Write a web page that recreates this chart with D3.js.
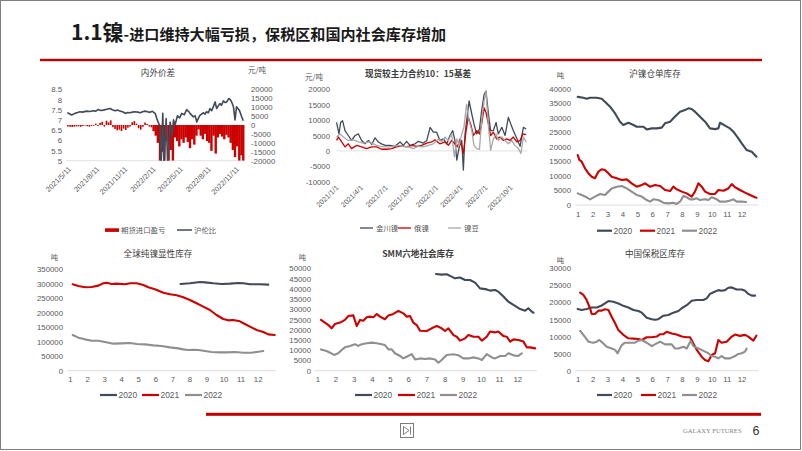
<!DOCTYPE html>
<html><head><meta charset="utf-8">
<script src="https://cdn.jsdelivr.net/npm/d3@7"></script>
<style>body{margin:0;background:#fff}svg{display:block}</style>
</head><body>
<svg id="c" width="802" height="451"></svg>
<script>
// ---------------- DATA ----------------
const slideTitleMain = "1.1镍";
const slideTitleRest = "-进口维持大幅亏损，保税区和国内社会库存增加";

// Chart 1: 内外价差
const c1Ticks = ["2021-05-11","2021-08-11","2021-11-11","2022-02-11","2022-05-11","2022-08-11","2022-11-11"];
const c1TickLabels = ["2021/5/11","2021/8/11","2021/11/11","2022/2/11","2022/5/11","2022/8/11","2022/11/11"];
const importPL = [["2021-05-14",-900],["2021-05-21",-1000],["2021-05-28",-1100],["2021-06-04",-900],["2021-06-11",-800],["2021-06-18",-700],["2021-06-25",-1000],["2021-07-02",-600],["2021-07-09",-300],["2021-07-16",-700],["2021-07-23",-900],["2021-07-30",-500],["2021-08-06",-400],["2021-08-13",800],["2021-08-20",-600],["2021-08-27",1200],["2021-09-03",1800],["2021-09-10",-900],["2021-09-17",2400],["2021-09-24",1500],["2021-10-01",2600],["2021-10-08",-1200],["2021-10-15",-2200],["2021-10-22",-3000],["2021-10-29",-2600],["2021-11-05",-3400],["2021-11-12",-2000],["2021-11-19",-2800],["2021-11-26",-1500],["2021-12-03",-900],["2021-12-10",1500],["2021-12-17",2200],["2021-12-24",800],["2021-12-31",-1800],["2022-01-07",-2600],["2022-01-14",-1000],["2022-01-21",1400],["2022-01-28",600],["2022-02-04",-900],["2022-02-11",-1300],["2022-02-18",-3500],["2022-02-25",-6000],["2022-03-04",-10000],["2022-03-11",-20000],["2022-03-18",-15000],["2022-03-25",-20000],["2022-04-01",-9000],["2022-04-08",-20000],["2022-04-15",-14000],["2022-04-22",-20000],["2022-04-29",-7000],["2022-05-06",-9000],["2022-05-13",-12000],["2022-05-20",-8000],["2022-05-27",-10000],["2022-06-03",-7000],["2022-06-10",-9500],["2022-06-17",-13000],["2022-06-24",-8000],["2022-07-01",-11000],["2022-07-08",-6000],["2022-07-15",-2500],["2022-07-22",-6000],["2022-07-29",-8000],["2022-08-05",-5000],["2022-08-12",-9000],["2022-08-19",-10000],["2022-08-26",-14500],["2022-09-02",-6000],["2022-09-09",-16000],["2022-09-16",-7000],["2022-09-23",-5000],["2022-09-30",-6500],["2022-10-07",-8000],["2022-10-14",-5500],["2022-10-21",-7000],["2022-10-28",-10000],["2022-11-04",-14000],["2022-11-11",-18000],["2022-11-18",-12000],["2022-11-25",-20000],["2022-12-02",-17000],["2022-12-08",-20000]];
const shLmeRatio = [["2021-05-12",7.35],["2021-05-19",7.30],["2021-05-26",7.24],["2021-06-06",7.32],["2021-06-15",7.36],["2021-06-22",7.40],["2021-07-01",7.38],["2021-07-14",7.43],["2021-07-24",7.41],["2021-08-05",7.45],["2021-08-13",7.43],["2021-08-21",7.51],["2021-08-30",7.46],["2021-09-07",7.48],["2021-09-18",7.52],["2021-09-29",7.56],["2021-10-06",7.50],["2021-10-15",7.45],["2021-10-23",7.48],["2021-10-31",7.43],["2021-11-09",7.40],["2021-11-17",7.32],["2021-11-25",7.36],["2021-12-03",7.35],["2021-12-11",7.38],["2021-12-19",7.40],["2021-12-28",7.38],["2022-01-05",7.35],["2022-01-13",7.40],["2022-01-21",7.43],["2022-01-29",7.40],["2022-02-06",7.37],["2022-02-14",7.42],["2022-02-23",7.32],["2022-03-02",7.0],["2022-03-11",6.67],["2022-03-14",4.6],["2022-03-20",7.32],["2022-03-24",4.7],["2022-03-31",7.07],["2022-04-05",4.8],["2022-04-13",6.9],["2022-04-19",6.2],["2022-04-24",7.0],["2022-04-29",6.75],["2022-05-07",7.2],["2022-05-14",7.1],["2022-05-21",7.32],["2022-05-29",7.25],["2022-06-06",7.5],["2022-06-12",7.42],["2022-06-17",7.32],["2022-06-28",7.15],["2022-07-04",7.2],["2022-07-09",6.9],["2022-07-15",7.1],["2022-07-20",7.23],["2022-07-31",7.35],["2022-08-05",7.28],["2022-08-10",7.4],["2022-08-16",7.35],["2022-08-21",7.56],["2022-08-27",7.45],["2022-09-01",7.64],["2022-09-07",7.88],["2022-09-12",7.56],["2022-09-18",7.7],["2022-09-23",7.8],["2022-09-28",7.72],["2022-10-04",7.93],["2022-10-10",7.85],["2022-10-15",7.88],["2022-10-22",8.05],["2022-10-27",7.98],["2022-10-31",7.88],["2022-11-06",7.64],["2022-11-11",7.0],["2022-11-16",7.64],["2022-11-21",7.55],["2022-11-25",7.48],["2022-12-03",7.15],["2022-12-08",6.96]];

// Chart 2: 现货较主力合约10：15基差
const c2Ticks = ["2021-01-01","2021-04-01","2021-07-01","2021-10-01","2022-01-01","2022-04-01","2022-07-01","2022-10-01"];
const c2TickLabels = ["2021/1/1","2021/4/1","2021/7/1","2021/10/1","2022/1/1","2022/4/1","2022/7/1","2022/10/1"];
const jinchuan = [["2021-01-03",9250],["2021-01-12",5500],["2021-01-18",9250],["2021-01-25",9800],["2021-02-03",6600],["2021-02-15",5000],["2021-02-27",3400],["2021-03-12",5000],["2021-03-24",5500],["2021-04-05",3400],["2021-04-17",2300],["2021-04-30",3400],["2021-05-12",2100],["2021-05-24",4250],["2021-06-05",2900],["2021-06-17",2300],["2021-06-30",1800],["2021-07-18",1800],["2021-08-05",1500],["2021-08-24",2900],["2021-09-05",1800],["2021-09-17",3100],["2021-09-29",1800],["2021-10-18",2300],["2021-10-30",3100],["2021-11-17",2550],["2021-11-30",3400],["2021-12-12",7660],["2021-12-24",6070],["2022-01-05",6070],["2022-01-17",3400],["2022-01-30",3900],["2022-02-11",2300],["2022-02-23",5000],["2022-03-05",6600],["2022-03-13",3400],["2022-03-20",-3000],["2022-03-29",1300],["2022-04-07",3400],["2022-04-13",-6200],["2022-04-19",5500],["2022-04-25",9800],["2022-05-04",16200],["2022-05-14",11900],["2022-05-22",8700],["2022-06-01",5500],["2022-06-11",7100],["2022-06-19",13000],["2022-06-28",18300],["2022-07-05",19400],["2022-07-14",11900],["2022-07-22",6600],["2022-08-01",6600],["2022-08-11",9250],["2022-08-19",5500],["2022-09-01",7660],["2022-09-13",5000],["2022-09-25",10850],["2022-10-04",8700],["2022-10-13",6600],["2022-10-26",4000],["2022-11-07",1500],["2022-11-19",7660],["2022-11-29",7100]];
const russian = [["2021-01-03",3400],["2021-01-10",4500],["2021-01-22",2900],["2021-02-03",1300],["2021-02-15",2300],["2021-02-27",750],["2021-03-18",1800],["2021-04-05",1300],["2021-04-23",750],["2021-05-12",1300],["2021-05-30",1300],["2021-06-17",530],["2021-07-06",530],["2021-07-24",750],["2021-08-11",1300],["2021-08-30",1600],["2021-09-17",1300],["2021-10-06",1800],["2021-10-24",1500],["2021-11-11",1800],["2021-11-30",2550],["2021-12-18",2900],["2021-12-30",3600],["2022-01-17",2300],["2022-02-05",2900],["2022-02-17",1800],["2022-03-01",3400],["2022-03-13",2300],["2022-03-22",1300],["2022-04-01",3900],["2022-04-13",-850],["2022-04-23",6600],["2022-05-01",10850],["2022-05-10",8700],["2022-05-20",5000],["2022-06-01",6600],["2022-06-11",5500],["2022-06-19",8700],["2022-06-28",14000],["2022-07-05",12450],["2022-07-14",8700],["2022-07-22",5000],["2022-08-01",6070],["2022-08-13",3900],["2022-08-25",4500],["2022-09-07",3400],["2022-09-19",3900],["2022-10-01",3400],["2022-10-13",4500],["2022-10-26",2900],["2022-11-07",3400],["2022-11-17",5500],["2022-11-29",5300]];
const nickelBean = [["2021-01-03",4500],["2021-01-16",5500],["2021-01-28",4500],["2021-02-15",3400],["2021-03-06",3600],["2021-03-24",2900],["2021-04-11",2550],["2021-04-30",2900],["2021-05-18",2300],["2021-06-05",1600],["2021-06-24",1300],["2021-07-12",1300],["2021-07-30",1500],["2021-08-18",1800],["2021-09-05",1500],["2021-09-23",1300],["2021-10-12",750],["2021-10-30",1500],["2021-11-17",1300],["2021-12-06",1800],["2021-12-24",2300],["2022-01-11",3900],["2022-01-24",2900],["2022-02-05",4500],["2022-02-17",3400],["2022-03-01",5500],["2022-03-11",-1900],["2022-03-20",3900],["2022-03-29",1800],["2022-04-07",5500],["2022-04-15",7660],["2022-04-25",15100],["2022-05-04",9800],["2022-05-14",6600],["2022-05-22",1800],["2022-06-01",750],["2022-06-11",500],["2022-06-19",9800],["2022-06-28",16200],["2022-07-05",19400],["2022-07-14",8000],["2022-07-22",200],["2022-08-01",3900],["2022-08-11",5500],["2022-08-19",3400],["2022-09-01",4500],["2022-09-13",3400],["2022-09-25",2300],["2022-10-07",3400],["2022-10-19",1800],["2022-11-01",750],["2022-11-10",-850],["2022-11-19",4500],["2022-11-29",2900]];

// Month charts: [month position (1 = start of Jan), value]
const monthLabels = [1,2,3,4,5,6,7,8,9,10,11,12];
const yearNames = ["2020","2021","2022"];
const shfe2020 = [[1.0,37200],[1.38,36900],[1.6,36550],[1.83,36900],[2.28,36900],[2.61,36550],[2.83,35500],[3.17,33800],[3.51,31500],[3.84,28650],[4.06,27500],[4.4,28300],[4.74,27500],[4.96,26900],[5.41,26900],[5.63,26000],[5.97,26350],[6.3,26350],[6.64,26600],[6.86,28100],[7.2,28650],[7.42,29800],[7.64,30950],[7.87,32100],[8.2,32650],[8.43,33250],[8.65,33000],[8.87,32100],[9.21,30350],[9.55,28650],[9.88,26350],[10.22,26100],[10.44,26350],[10.55,28300],[10.89,27300],[11.22,26350],[11.45,25200],[11.78,22900],[12.01,21200],[12.34,18900],[12.68,18300],[13.0,16600]];
const shfe2021 = [[1.0,17200],[1.11,15500],[1.27,14900],[1.49,12600],[1.72,10900],[1.94,9700],[2.16,9200],[2.39,11500],[2.61,12300],[2.83,12000],[3.06,10900],[3.28,9700],[3.62,9200],[3.95,8600],[4.29,8800],[4.62,7450],[4.96,6300],[5.3,6900],[5.52,7450],[5.85,6300],[6.19,6900],[6.53,6550],[6.86,5150],[7.2,4800],[7.42,6300],[7.64,5400],[7.98,4600],[8.32,4000],[8.65,2900],[8.87,4600],[9.1,7450],[9.32,6300],[9.55,4600],[9.88,3800],[10.22,3800],[10.44,5150],[10.78,4900],[11.11,5700],[11.34,7200],[11.56,6100],[11.89,5150],[12.23,4250],[12.57,3450],[12.9,2650],[13.0,2500]];
const shfe2022 = [[1.0,4000],[1.27,3450],[1.6,2650],[1.83,1950],[2.16,2900],[2.5,3800],[2.83,3450],[3.06,4600],[3.28,5700],[3.62,6300],[3.95,6550],[4.29,5700],[4.62,4600],[4.96,3450],[5.3,2900],[5.63,1700],[5.85,1150],[6.08,1950],[6.41,1700],[6.75,800],[7.09,570],[7.42,800],[7.64,350],[7.87,1150],[8.09,3100],[8.32,2650],[8.54,1950],[8.76,1950],[8.99,2300],[9.21,1700],[9.55,1950],[9.77,1700],[9.99,2650],[10.33,1950],[10.55,1150],[10.89,1150],[11.22,1500],[11.45,1950],[11.67,1150],[12.01,1150],[12.3,1050]];

const global2020 = [[7.48,299300],[8.03,301600],[8.62,306200],[8.91,305000],[9.4,301600],[9.89,299300],[10.38,300500],[10.86,302800],[11.16,301600],[11.55,298200],[12.13,298200],[12.62,297000]];
const global2021 = [[1.16,298200],[1.49,292400],[1.88,287800],[2.27,289000],[2.66,293600],[2.95,301600],[3.15,303900],[3.44,299300],[3.73,300500],[4.22,298200],[4.52,301600],[4.91,301600],[5.3,295900],[5.59,287800],[5.98,280900],[6.47,269400],[6.86,263600],[7.25,260200],[7.64,253300],[8.03,244100],[8.42,232600],[8.81,221000],[9.2,209500],[9.59,192300],[9.98,178500],[10.28,173800],[10.57,175000],[10.96,170400],[11.25,161200],[11.55,152000],[11.94,140500],[12.33,133600],[12.62,125500],[13.0,123200]];
const global2022 = [[1.16,123200],[1.49,114000],[1.88,108200],[2.27,103600],[2.66,103600],[3.05,99000],[3.54,93300],[4.03,94400],[4.52,95600],[4.91,92100],[5.39,91000],[5.88,87500],[6.37,85200],[6.86,80600],[7.35,77100],[7.64,73700],[7.93,71400],[8.23,72500],[8.52,71400],[8.91,67900],[9.3,64500],[9.79,63300],[10.18,63300],[10.67,64500],[11.16,62200],[11.64,62200],[12.04,65600],[12.33,67900]];

const smm2020 = [[7.53,47200],[7.84,46900],[8.12,47100],[8.3,46300],[8.58,45100],[8.85,45500],[9.13,44300],[9.4,44300],[9.68,43000],[9.95,40200],[10.32,39700],[10.5,39100],[10.78,39400],[10.96,38600],[11.24,36200],[11.51,33700],[11.79,32100],[12.16,30100],[12.43,29300],[12.61,30500],[12.8,28800],[12.89,28300]];
const smm2021 = [[1.2,24800],[1.42,23500],[1.61,22300],[1.79,20700],[1.97,22800],[2.25,23500],[2.52,24800],[2.71,26700],[2.98,27000],[3.17,21800],[3.35,24800],[3.53,24400],[3.72,26100],[3.9,26400],[4.08,26100],[4.27,27700],[4.45,26400],[4.72,25100],[4.91,27000],[5.18,27700],[5.46,29200],[5.73,28000],[5.92,26400],[6.1,26700],[6.28,23500],[6.47,22300],[6.65,19500],[7.02,19400],[7.29,20700],[7.57,21800],[7.84,20700],[8.03,19400],[8.21,20700],[8.49,17400],[8.67,16600],[8.85,14700],[9.13,15800],[9.31,17400],[9.59,16600],[9.86,16600],[10.05,14700],[10.32,16600],[10.5,19100],[10.78,18700],[10.96,19100],[11.24,16900],[11.42,16600],[11.61,14200],[11.79,15300],[12.06,15000],[12.34,14200],[12.52,11400],[12.71,11400],[12.98,10900]];
const smm2022 = [[1.2,10400],[1.51,9600],[1.7,8800],[1.92,7700],[2.15,8500],[2.34,10100],[2.52,11400],[2.8,12100],[3.07,12900],[3.25,12100],[3.44,12900],[3.72,13400],[3.99,13700],[4.27,13400],[4.54,12900],[4.72,12500],[4.91,10400],[5.09,10400],[5.27,8500],[5.55,7200],[5.73,6000],[5.92,6800],[6.19,8100],[6.38,5500],[6.65,6000],[6.93,5700],[7.2,6000],[7.48,5500],[7.66,3900],[7.84,5200],[8.12,7700],[8.49,8000],[8.76,7500],[9.04,6000],[9.31,6000],[9.59,6500],[9.86,6000],[10.05,5200],[10.32,8100],[10.6,6500],[10.78,6000],[11.06,7200],[11.33,7200],[11.51,8500],[11.79,7500],[12.06,7200],[12.25,8500]];

const bonded2020 = [[1.0,18100],[1.27,17800],[1.6,18100],[1.94,18500],[2.28,18500],[2.61,19100],[2.83,19700],[3.06,20400],[3.39,20200],[3.73,19700],[4.06,19000],[4.4,18500],[4.74,17800],[5.07,17500],[5.3,17000],[5.63,15500],[5.97,15100],[6.19,14900],[6.41,15100],[6.75,16100],[7.09,16300],[7.42,17000],[7.76,17500],[7.98,18300],[8.32,19200],[8.65,20500],[8.99,20700],[9.43,20700],[9.66,21200],[9.88,22500],[10.11,23000],[10.44,23600],[10.66,23400],[10.89,23600],[11.11,24300],[11.34,24400],[11.67,23800],[12.01,23800],[12.23,23400],[12.45,22500],[12.68,22000],[12.91,22000]];
const bonded2021 = [[1.16,22900],[1.38,22200],[1.6,20700],[1.83,18300],[1.94,16600],[2.16,16600],[2.39,17600],[2.61,17600],[2.83,18000],[3.06,17800],[3.28,15800],[3.51,13900],[3.73,11900],[4.06,10500],[4.4,9500],[4.74,9400],[5.07,9300],[5.3,9000],[5.63,9800],[5.97,9800],[6.3,10000],[6.53,10700],[6.75,10700],[6.97,11400],[7.31,10900],[7.64,10600],[7.98,10000],[8.32,9800],[8.54,9800],[8.76,8000],[8.99,6100],[9.32,4100],[9.55,3100],[9.77,2800],[9.99,4600],[10.22,5100],[10.44,9000],[10.66,8200],[11.0,8500],[11.34,10000],[11.56,10600],[11.89,10200],[12.23,10500],[12.45,10000],[12.79,8800],[13.0,10300]];
const bonded2022 = [[1.16,11700],[1.38,10500],[1.72,8500],[2.05,8200],[2.28,8500],[2.45,9000],[2.72,8000],[2.95,7000],[3.28,6500],[3.51,6100],[3.68,5100],[3.95,7500],[4.18,8200],[4.51,8200],[4.85,8200],[5.07,8800],[5.3,9000],[5.63,8200],[5.97,7200],[6.3,8000],[6.53,8500],[6.86,7700],[7.31,7700],[7.53,6500],[7.76,6500],[8.09,7000],[8.32,6500],[8.58,8800],[8.76,7200],[8.99,6700],[9.32,6100],[9.55,5600],[9.77,5100],[9.99,4300],[10.22,4100],[10.44,3600],[10.66,4300],[10.89,3600],[11.22,3600],[11.56,4300],[11.78,4900],[12.01,5100],[12.23,5600],[12.34,6500]];

// ---------------- STYLE ----------------
const NUM = "'Liberation Sans', Arial, sans-serif";
const CJK = "'Noto Sans CJK SC', 'Noto Sans', sans-serif";
const C_DARK = "#414a58", C_RED = "#cc0000", C_GRAY = "#8f8f8f", C_LIGHT = "#a8a8a8";
const C_TEXT = "#595959", C_AXIS = "#d9d9d9", C_BRAND = "#c00000";
const parse = d3.timeParse("%Y-%m-%d");
const svg = d3.select("#c");

// ---------------- SLIDE FRAME ----------------
svg.append("rect").attr("x",0.5).attr("y",0.5).attr("width",800).attr("height",449)
  .attr("fill","#fff").attr("stroke","#7f7f7f").attr("stroke-width",1);
const tt = svg.append("text").attr("x",71).attr("y",40).attr("font-family",CJK).attr("font-weight",700).attr("fill","#1a1a1a");
tt.append("tspan").attr("font-size",21).text(slideTitleMain);
tt.append("tspan").attr("font-size",15.1).text(slideTitleRest);
svg.append("rect").attr("x",40).attr("y",58.8).attr("width",722).attr("height",2.4).attr("fill",C_BRAND);
svg.append("rect").attr("x",206).attr("y",412.8).attr("width",555).attr("height",3).attr("fill",C_BRAND);
// footer icon
const ic = svg.append("g").attr("fill","none").attr("stroke","#6f6f6f").attr("stroke-width",0.9);
ic.append("rect").attr("x",400.5).attr("y",423.5).attr("width",13).attr("height",14);
ic.append("path").attr("d","M403.5,426.5 L403.5,434.5 L409,430.5 Z");
ic.append("path").attr("d","M410.5,426.5 L410.5,434.5");
svg.append("text").attr("x",683).attr("y",432.5).attr("font-family","'Liberation Serif', serif").attr("font-size",6.6).attr("fill","#7f7f7f").text("GALAXY FUTURES");
svg.append("text").attr("x",752.5).attr("y",434.5).attr("font-family",NUM).attr("font-size",12.5).attr("fill","#333").text("6");

function styleText(sel, size){ sel.attr("font-family",NUM).attr("font-size",size).attr("fill",C_TEXT); }
function txt(g, x, y, s, size, opt={}) {
  return g.append("text").attr("x",x).attr("y",y).attr("font-family",opt.font||CJK)
    .attr("font-size",size).attr("font-weight",opt.bold?700:400)
    .attr("text-anchor",opt.anchor||"start").attr("fill",opt.fill||"#404040").text(s);
}

// ---------------- CHART 1 ----------------
(function(){
  const g = svg.append("g");
  const x = d3.scaleTime().domain([parse(c1Ticks[0]), parse(c1Ticks[6])]).range([67,235]);
  const yL = d3.scaleLinear().domain([5,8.5]).range([160.7,89.3]);
  const yR = d3.scaleLinear().domain([-20000,20000]).range([160.7,89.3]);
  svg.append("clipPath").attr("id","cp1").append("rect")
    .attr("x",x(parse("2021-05-01"))).attr("y",yL(8.5)-3)
    .attr("width",x(parse("2022-12-31"))-x(parse("2021-05-01"))).attr("height",yL(5)-yL(8.5)+3);
  txt(g,158,76,"内外价差",8.6,{anchor:"middle"});
  txt(g,248,73,"元/吨",7.5,{fill:C_TEXT});
  g.append("line").attr("x1",x(parse("2021-05-08"))).attr("x2",x(parse("2022-12-14")))
    .attr("y1",yL(5)).attr("y2",yL(5)).attr("stroke",C_AXIS).attr("stroke-width",0.8);
  const al = g.append("g").attr("transform","translate(62,0)")
    .call(d3.axisLeft(yL).tickValues(d3.range(5,8.51,0.5)).tickSize(0).tickPadding(0).tickFormat(d=>String(d)));
  al.select(".domain").remove(); styleText(al.selectAll("text"),7.8);
  const ar = g.append("g").attr("transform","translate(251,0)")
    .call(d3.axisRight(yR).tickValues(d3.range(-20000,20001,5000)).tickSize(0).tickPadding(0).tickFormat(d=>String(d)));
  ar.select(".domain").remove(); styleText(ar.selectAll("text"),7.8);
  // bars (thin in the quiet period, contiguous later, as in the source)
  const wide = parse("2022-02-15");
  g.append("g").attr("clip-path","url(#cp1)").selectAll("rect").data(importPL).join("rect")
    .attr("x",d=>x(parse(d[0]))-(parse(d[0])<wide?0.8:1.2)).attr("width",d=>parse(d[0])<wide?1.6:2.4)
    .attr("y",d=>Math.min(yR(0),yR(d[1]))).attr("height",d=>Math.abs(yR(d[1])-yR(0)))
    .attr("fill",C_RED);
  g.append("path").attr("clip-path","url(#cp1)")
    .attr("d",d3.line().x(d=>x(parse(d[0]))).y(d=>yL(d[1]))(shLmeRatio))
    .attr("fill","none").attr("stroke",C_DARK).attr("stroke-width",1.6).attr("stroke-linejoin","round");
  g.selectAll(".xl").data(c1Ticks).join("text")
    .attr("transform",(d)=>`translate(${x(parse(d))+1},166) rotate(-45)`)
    .attr("text-anchor","end").attr("dy","0.7em").attr("font-family",NUM).attr("font-size",7.4).attr("fill",C_TEXT)
    .text((d,i)=>c1TickLabels[i]);
  g.append("rect").attr("x",105).attr("y",228.3).attr("width",14).attr("height",3.6).attr("fill",C_RED);
  txt(g,121,232.7,"期货进口盈亏",7.4,{fill:C_TEXT});
  g.append("line").attr("x1",177).attr("x2",192).attr("y1",230).attr("y2",230).attr("stroke",C_DARK).attr("stroke-width",1.5);
  txt(g,194,232.7,"沪伦比",7.4,{fill:C_TEXT});
})();

// ---------------- CHART 2 ----------------
(function(){
  const g = svg.append("g");
  const x = d3.scaleTime().domain([parse(c2Ticks[0]), parse(c2Ticks[7])]).range([336,510]);
  const y = d3.scaleLinear().domain([-10000,20000]).range([181.7,89.3]);
  txt(g,418,76.5,"现货较主力合约10：15基差",8.6,{anchor:"middle",bold:true});
  txt(g,305,80,"元/吨",7.5,{fill:C_TEXT});
  g.append("line").attr("x1",x(parse("2021-01-03"))).attr("x2",x(parse("2022-12-04")))
    .attr("y1",y(0)).attr("y2",y(0)).attr("stroke",C_AXIS).attr("stroke-width",0.8);
  const al = g.append("g").attr("transform","translate(330,0)")
    .call(d3.axisLeft(y).tickValues(d3.range(-10000,20001,5000)).tickSize(0).tickPadding(0).tickFormat(d=>String(d)));
  al.select(".domain").remove(); styleText(al.selectAll("text"),7.8);
  const line = d3.line().x(d=>x(parse(d[0]))).y(d=>y(d[1]));
  [[jinchuan,C_DARK],[russian,C_RED],[nickelBean,C_LIGHT]].forEach(([s,c])=>{
    g.append("path").attr("d",line(s)).attr("fill","none").attr("stroke",c).attr("stroke-width",1.3).attr("stroke-linejoin","round");
  });
  g.selectAll(".xl").data(c2Ticks).join("text")
    .attr("transform",(d)=>`translate(${x(parse(d))-0.5},184.5) rotate(-45)`)
    .attr("text-anchor","end").attr("dy","0.7em").attr("font-family",NUM).attr("font-size",7.2).attr("fill",C_TEXT)
    .text((d,i)=>c2TickLabels[i]);
  const leg = [["金川镍",C_DARK,360],["俄镍",C_RED,398],["镍豆",C_LIGHT,448]];
  leg.forEach(([n,c,lx])=>{
    g.append("line").attr("x1",lx).attr("x2",lx+13).attr("y1",228).attr("y2",228).attr("stroke",c).attr("stroke-width",1.3);
    txt(g,lx+16,230.7,n,7.4,{fill:C_TEXT});
  });
})();

// ---------------- MONTH CHARTS ----------------
function monthChart(o){
  const g = svg.append("g");
  const x = d3.scaleLinear().domain([1,13]).range([o.x1, o.x1 + 12*o.step]);
  const y = d3.scaleLinear().domain([0,o.ymax]).range([o.y0,o.yTop]);
  txt(g,o.tx,o.ty,o.title,8.6,{anchor:"middle",bold:!!o.bold});
  txt(g,o.ux,o.uy,"吨",7.3,{anchor:"middle",fill:C_TEXT});
  g.append("line").attr("x1",x(1)-2.5).attr("x2",x(13)+1.5).attr("y1",o.y0).attr("y2",o.y0)
    .attr("stroke",C_AXIS).attr("stroke-width",0.9);
  const al = g.append("g").attr("transform",`translate(${o.yLab},0)`)
    .call(d3.axisLeft(y).tickValues(d3.range(0,o.ymax+1,o.ystep)).tickSize(0).tickPadding(0).tickFormat(d=>String(d)));
  al.select(".domain").remove(); styleText(al.selectAll("text"),7.8);
  const ax = g.append("g").attr("transform",`translate(0,${o.y0})`)
    .call(d3.axisBottom(x).tickValues(monthLabels).tickSize(0).tickPadding(6).tickFormat(d=>String(d)));
  ax.select(".domain").remove(); styleText(ax.selectAll("text"),7.8);
  const line = d3.line().x(d=>x(d[0])).y(d=>y(d[1]));
  const colors = [C_DARK,C_RED,C_GRAY];
  o.series.forEach((s,i)=>{
    g.append("path").attr("d",line(s)).attr("fill","none").attr("stroke",colors[i])
      .attr("stroke-width",2.1).attr("stroke-linejoin","round").attr("stroke-linecap","round");
  });
  o.legX.forEach((lx,i)=>{
    g.append("line").attr("x1",lx).attr("x2",lx+o.legLen).attr("y1",o.legY).attr("y2",o.legY)
      .attr("stroke",colors[i]).attr("stroke-width",2.2);
    txt(g,lx+o.legLen+1.5,o.legY+3,yearNames[i],8.4,{font:NUM,fill:C_TEXT});
  });
}

monthChart({x1:577.7,step:14.9,y0:205,yTop:88.7,ymax:40000,ystep:5000,yLab:571,
  title:"沪镍仓单库存",tx:655,ty:76.5,ux:560.5,uy:78,legX:[597,640,682],legY:230.7,legLen:15,
  series:[shfe2020,shfe2021,shfe2022]});
monthChart({x1:70,step:17.06,y0:370.7,yTop:269.3,ymax:350000,ystep:50000,yLab:63,
  title:"全球纯镍显性库存",tx:158,ty:257,ux:54.5,uy:260,legX:[100,142,185],legY:395,legLen:17,
  series:[global2020,global2021,global2022]});
monthChart({x1:317.3,step:18.18,y0:370.7,yTop:268.3,ymax:50000,ystep:5000,yLab:311,bold:true,
  title:"SMM六地社会库存",tx:418,ty:257,ux:302.5,uy:260,legX:[355,398,440],legY:395,legLen:17,
  series:[smm2020,smm2021,smm2022]});
monthChart({x1:577.7,step:14.9,y0:370.7,yTop:268.3,ymax:30000,ystep:5000,yLab:571,
  title:"中国保税区库存",tx:655,ty:257,ux:560.5,uy:262.5,legX:[597,641,682],legY:395,legLen:15,
  series:[bonded2020,bonded2021,bonded2022]});
</script>
</body></html>
